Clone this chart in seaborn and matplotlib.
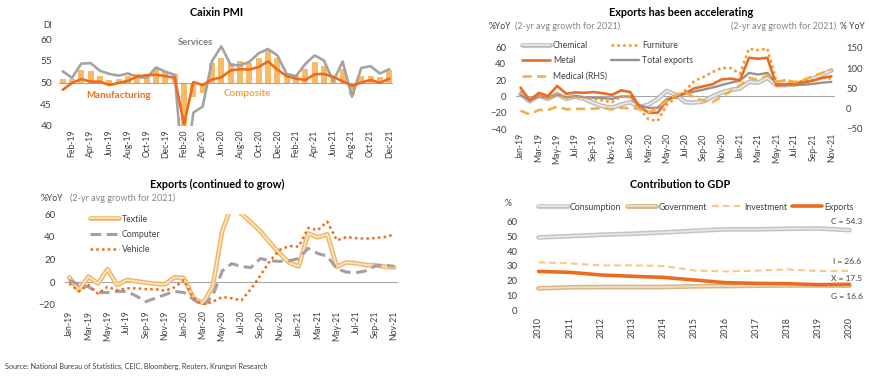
import numpy as np
import pandas as pd
import matplotlib
matplotlib.use("Agg")
import matplotlib.pyplot as plt
import matplotlib.patheffects as pe
import seaborn as sns

# ---------------- Data ----------------
pmi_months = pd.date_range("2019-01-01", periods=36, freq="MS").strftime("%b-%y").tolist()
manufacturing = [48.3, 49.9, 50.8, 50.2, 50.2, 49.4, 49.9, 50.4, 51.4, 51.7, 51.8, 51.5,
                 51.1, 40.3, 50.1, 49.4, 50.7, 51.2, 52.8, 53.1, 53.0, 53.6, 54.9, 53.0,
                 51.5, 50.9, 50.6, 51.9, 52.0, 51.3, 50.3, 49.2, 50.0, 50.6, 49.9, 50.9]
services = [52.6, 51.1, 54.4, 54.5, 52.7, 52.0, 51.6, 52.1, 51.3, 51.1, 53.5, 52.5,
            51.8, 26.5, 43.0, 44.4, 55.0, 58.4, 54.1, 54.0, 54.8, 56.8, 57.8, 56.3,
            52.0, 51.5, 54.3, 56.3, 55.1, 50.3, 54.9, 46.7, 53.4, 53.8, 52.1, 53.1]
composite = [50.9, 50.7, 52.9, 52.7, 51.5, 50.6, 50.9, 51.6, 51.9, 52.0, 53.2, 52.6,
             51.9, 27.5, 46.7, 47.6, 54.5, 55.7, 54.5, 55.1, 54.5, 55.7, 57.5, 55.8,
             52.2, 51.7, 53.1, 54.7, 53.8, 50.6, 53.1, 47.2, 51.4, 51.5, 51.2, 53.0]

exp_months = pd.date_range("2019-01-01", periods=35, freq="MS").strftime("%b-%y").tolist()
chemical = [3, -6, 1, -3, 3, -3, 0, -3, -8, -12, -14, -10, -7, -13, -10, -3, 7, 2, -7, -7.5,
            -6, 0, 5, 8, 10, 18, 17, 23, 14, 14, 15, 18, 22, 27, 32]
metal = [10.8, -5, 4.5, 0.4, 13, 3.3, 5, 4.5, 5.4, 4, 2, 7.5, 5.4, -12.4, -20, -20, -5, 1,
         4, 10, 12.5, 15, 21, 22, 20, 47.6, 46.4, 47.6, 13.7, 14.5, 15.7, 17.4, 19.5, 22.8, 24.8]
furniture = [7, -3, 2, -3, 3, -2, 0, -1, -3, -5, -7, 0, -1, -15, -28, -30, -10, -2, 7, 19,
             24, 30, 35, 35, 28, 59, 57, 59, 18, 20, 17, 19, 20, 23, 22]
total_exports = [2, -5, 0.5, -2, 2.5, -1, 0.5, -1, -1.7, -2, -3, 0, 0, -11, -14, -14, -3, -1,
                 3.5, 6, 8.5, 11, 14, 17, 19.5, 29, 27, 29, 15.5, 15, 14, 14.5, 15.5, 17, 18]
medical_rhs = [-5, -14, -3, -3, 5, -1.5, -0.5, -0.5, 0, 2, -2, 2, 1, -0.5, -9, 2, 20, 34, 41,
               27, 20, 16, 30, 43, 57, 76, 71, 82, 66, 70, 66, 71, 80, 88, 96]

textile = [4.4, -6.8, 5, -1, 11.5, -2.4, 2, 1, -0.3, -1.2, -1.8, 4.4, 3.8, -14, -18.5, -4,
           45, 68, 60.5, 53, 45, 35, 25.5, 17.5, 14, 43, 39.7, 42.4, 13.8, 17.6, 16.8, 15.3,
           15, 13.8, 13.2]
computer = [2, -2, -4, -9, -9, -8, -8, -12, -17, -14, -11, -8, -9, -15, -21, -12, 10, 16.5,
            14, 13, 21, 19, 18.5, 19, 21, 30, 25.5, 23, 12, 9, 8.5, 10, 14.5, 15.3, 14]
vehicle = [-1, -8, -2.4, -10, -4, -7, -5.3, -5.3, -6, -6, -7.4, -4.4, 2, -14, -20, -17, -13,
           -14, -16, -6, 6, 19, 28.5, 32, 31.5, 48, 46, 53.5, 37, 40, 39, 38.5, 39, 40, 42]

years = [2010, 2011, 2012, 2013, 2014, 2015, 2016, 2017, 2018, 2019, 2020]
consumption = [49.3, 50.2, 51.1, 51.8, 52.7, 53.8, 54.8, 54.8, 55.2, 55.4, 54.3]
government = [14.7, 15.4, 15.6, 15.6, 15.6, 16.1, 16.3, 16.5, 16.7, 16.7, 16.6]
investment = [32.4, 31.7, 30.3, 30.3, 29.9, 26.9, 26.2, 26.7, 27.6, 26.5, 26.6]
exports_gdp = [26.2, 25.6, 23.8, 22.9, 22.2, 20.4, 18.6, 18.1, 17.9, 17.2, 17.5]

# ---------------- Style ----------------
sns.set_theme(style="white")
plt.rcParams["font.family"] = ["Lato", "DejaVu Sans"]

ORANGE = "#EC6C1F"
TICK_C = "#404040"
AXIS_C = "#A6A6A6"
SUB_C = "#8E8088"
W, H = 870, 377

fig = plt.figure(figsize=(8.7, 3.77), dpi=100)


def box(l, t, r, b):
    return [l / W, 1 - b / H, (r - l) / W, (b - t) / H]


def fxy(x, y):
    return x / W, 1 - y / H


def dbl(outer):
    return [pe.Stroke(linewidth=3.4, foreground=outer), pe.Normal()]


def clean(ax):
    for s in ax.spines.values():
        s.set_visible(False)
    ax.tick_params(length=0, colors=TICK_C)
    ax.set_xlabel("")
    ax.set_ylabel("")


# ---------------- Panel 1: Caixin PMI ----------------
ax1 = fig.add_axes(box(59, 39.5, 393, 125.5))
df1 = pd.DataFrame({"m": np.arange(36), "Manufacturing": manufacturing,
                    "Services": services, "Composite": composite})
df1["comp_h"] = df1["Composite"] - 50
sns.barplot(data=df1, x="m", y="comp_h", bottom=50, color="#F9B965", saturation=1,
            width=0.62, orient="v", ax=ax1, zorder=1, linewidth=0, edgecolor="none")
sns.lineplot(data=df1, x="m", y="Services", color="#A3A3A3", lw=1.9, ax=ax1, zorder=3)
sns.lineplot(data=df1, x="m", y="Manufacturing", color=ORANGE, lw=1.9, ax=ax1, zorder=4)
ax1.axhline(50, color=AXIS_C, lw=0.8, zorder=2)
ax1.set_ylim(40, 60)
ax1.set_xlim(-0.4, 35.4)
ax1.set_yticks([40, 45, 50, 55, 60])
ax1.set_xticks(range(1, 36, 2))
ax1.set_xticklabels(pmi_months[1::2], rotation=90, fontsize=6.2)
clean(ax1)
ax1.tick_params(axis="y", labelsize=7.3, pad=5)
ax1.tick_params(axis="x", pad=3)

fig.text(*fxy(216.7, 12.5), "Caixin PMI", ha="center", va="center", fontsize=7.8,
         fontweight="bold", color="black")
fig.text(*fxy(43, 25), "DI", ha="left", va="center", fontsize=6.2, color=TICK_C)
fig.text(*fxy(195, 42.7), "Services", ha="center", va="center", fontsize=6.8,
         fontweight="bold", color="#7F7F7F")
fig.text(*fxy(119, 95.7), "Manufacturing", ha="center", va="center", fontsize=7,
         fontweight="bold", color=ORANGE)
fig.text(*fxy(247.7, 93.7), "Composite", ha="center", va="center", fontsize=7,
         fontweight="bold", color="#F5A53F")

# ---------------- Panel 2: Exports has been accelerating ----------------
ax2 = fig.add_axes(box(516, 47.7, 835, 129))
ax2r = ax2.twinx()
df2 = pd.DataFrame({"m": np.arange(35), "Chemical": chemical, "Metal": metal,
                    "Furniture": furniture, "Total exports": total_exports,
                    "Medical (RHS)": medical_rhs})
ax2.axhline(0, color=AXIS_C, lw=0.8, zorder=0)
sns.lineplot(data=df2, x="m", y="Chemical", color="#E9E9E9", lw=1.3,
             path_effects=dbl("#BDBDBD"), ax=ax2, label="Chemical")
sns.lineplot(data=df2, x="m", y="Total exports", color="#9D8E90", lw=1.7, ax=ax2,
             label="Total exports")
sns.lineplot(data=df2, x="m", y="Furniture", color="#EE9A36", lw=1.9,
             linestyle=(0, (1, 1.2)), ax=ax2, label="Furniture")
sns.lineplot(data=df2, x="m", y="Metal", color=ORANGE, lw=1.9, ax=ax2, label="Metal")
sns.lineplot(data=df2, x="m", y="Medical (RHS)", color="#F4B046", lw=1.9,
             linestyle=(0, (3.5, 2)), ax=ax2r, label="Medical (RHS)")
ax2.set_ylim(-40, 60)
ax2r.set_ylim(-50, 150)
ax2.set_xlim(-0.5, 34.4)
ax2.set_yticks([-40, -20, 0, 20, 40, 60])
ax2r.set_yticks([-50, 0, 50, 100, 150])
ax2.set_xticks(range(0, 35, 2))
ax2.set_xticklabels(exp_months[0::2], rotation=90, fontsize=6.2)
clean(ax2)
clean(ax2r)
ax2r.grid(False)
ax2.tick_params(axis="y", labelsize=6.8, pad=7)
ax2r.tick_params(axis="y", labelsize=6.8, pad=8)
ax2.tick_params(axis="x", pad=3)
if ax2.get_legend() is not None:
    ax2.get_legend().remove()
h2 = {l.get_label(): l for l in ax2.get_lines() + ax2r.get_lines()}
order2 = ["Chemical", "Metal", "Medical (RHS)", "Furniture", "Total exports"]
ax2r.legend([h2[k] for k in order2], order2, loc="upper left",
            bbox_to_anchor=fxy(522, 41), bbox_transform=fig.transFigure, ncol=2,
            frameon=False, fontsize=6.3, handlelength=3.2, handletextpad=0.35,
            columnspacing=0.5, labelspacing=0.72, borderpad=0, borderaxespad=0,
            labelcolor=TICK_C)

fig.text(*fxy(680.7, 12.5), "Exports has been accelerating", ha="center", va="center",
         fontsize=7.8, fontweight="bold", color="black")
fig.text(*fxy(489, 26.7), "%YoY", ha="left", va="center", fontsize=6.2, color=TICK_C)
fig.text(*fxy(515, 26.7), "(2-yr avg growth for 2021)", ha="left", va="center",
         fontsize=6.5, color=SUB_C)
fig.text(*fxy(836, 26.7), "(2-yr avg growth for 2021)", ha="right", va="center",
         fontsize=6.5, color=SUB_C)
fig.text(*fxy(840, 26.7), "% YoY", ha="left", va="center", fontsize=6.2, color=TICK_C)

# ---------------- Panel 3: Exports (continued to grow) ----------------
ax3 = fig.add_axes(box(65, 214.3, 398, 305))
df3 = pd.DataFrame({"m": np.arange(35), "Textile": textile, "Computer": computer,
                    "Vehicle": vehicle})
ax3.axhline(0, color=AXIS_C, lw=0.8, zorder=0)
sns.lineplot(data=df3, x="m", y="Textile", color="#FCE3BB", lw=1.3,
             path_effects=dbl("#EEB86C"), ax=ax3, label="Textile")
sns.lineplot(data=df3, x="m", y="Computer", color="#A99DA4", lw=2.2,
             linestyle=(0, (3.5, 1.8)), ax=ax3, label="Computer")
sns.lineplot(data=df3, x="m", y="Vehicle", color=ORANGE, lw=1.8,
             linestyle=(0, (1, 1.3)), ax=ax3, label="Vehicle")
ax3.set_ylim(-20, 60)
ax3.set_xlim(-0.45, 34.4)
ax3.set_yticks([-20, 0, 20, 40, 60])
ax3.set_xticks(range(0, 35, 2))
ax3.set_xticklabels(exp_months[0::2], rotation=90, fontsize=6.2)
clean(ax3)
ax3.tick_params(axis="y", labelsize=7, pad=7)
ax3.tick_params(axis="x", pad=4)
ax3.legend(loc="upper left", bbox_to_anchor=fxy(90, 214.5), bbox_transform=fig.transFigure,
           ncol=1, frameon=False, fontsize=6.3, handlelength=3.3, handletextpad=0.3,
           labelspacing=0.72, borderpad=0, borderaxespad=0, labelcolor=TICK_C)

fig.text(*fxy(216.7, 184.3), "Exports (continued to grow)", ha="center", va="center",
         fontsize=7.8, fontweight="bold", color="black")
fig.text(*fxy(41, 198.3), "%YoY", ha="left", va="center", fontsize=6.2, color=TICK_C)
fig.text(*fxy(70, 198.3), "(2-yr avg growth for 2021)", ha="left", va="center",
         fontsize=6.5, color=SUB_C)

# ---------------- Panel 4: Contribution to GDP ----------------
ax4 = fig.add_axes(box(523, 221.7, 865, 310))
df4 = pd.DataFrame({"y": np.arange(len(years)), "Consumption": consumption,
                    "Government": government, "Investment": investment,
                    "Exports": exports_gdp})
ax4.axhline(0, color=AXIS_C, lw=0.8, zorder=0)
sns.lineplot(data=df4, x="y", y="Consumption", color="#E6E6E6", lw=1.3,
             path_effects=dbl("#C4C4C4"), ax=ax4, label="Consumption")
sns.lineplot(data=df4, x="y", y="Government", color="#EFDDC0", lw=1.3,
             path_effects=dbl("#D6B683"), ax=ax4, label="Government")
sns.lineplot(data=df4, x="y", y="Investment", color="#F7C984", lw=1.5,
             linestyle=(0, (3.2, 2)), ax=ax4, label="Investment")
sns.lineplot(data=df4, x="y", y="Exports", color=ORANGE, lw=2.6, ax=ax4, label="Exports")
ax4.set_ylim(0, 60)
ax4.set_xlim(-0.5, len(years) - 0.5)
ax4.set_yticks(range(0, 61, 10))
ax4.set_xticks(range(len(years)))
ax4.set_xticklabels([str(y) for y in years], rotation=90, fontsize=6.5)
clean(ax4)
ax4.tick_params(axis="y", labelsize=6.8, pad=4)
ax4.tick_params(axis="x", pad=5)
ax4.legend(loc="upper left", bbox_to_anchor=fxy(538, 202.5), bbox_transform=fig.transFigure,
           ncol=4, frameon=False, fontsize=6.3, handlelength=3.4, handletextpad=0.25,
           columnspacing=0.6, borderpad=0, borderaxespad=0, labelcolor=TICK_C)
last = len(years) - 1
for lab, vals, dy in [("C", consumption, 6), ("I", investment, 7), ("X", exports_gdp, 4),
                      ("G", government, -8)]:
    ax4.annotate(f"{lab} = {vals[-1]}", xy=(last, vals[-1]), xytext=(-2, dy),
                 textcoords="offset points", ha="center", va="center", fontsize=6,
                 color=TICK_C, annotation_clip=False)

fig.text(*fxy(680, 184.3), "Contribution to GDP", ha="center", va="center", fontsize=7.8,
         fontweight="bold", color="black")
fig.text(*fxy(505, 203), "%", ha="left", va="center", fontsize=6.2, color=TICK_C)

# ---------------- Source ----------------
fig.text(*fxy(5, 366.5), "Source: National Bureau of Statistics, CEIC, Bloomberg, Reuters, "
         "Krungsri Research", ha="left", va="center", fontsize=5.2, color=TICK_C)

fig.savefig("out.png", dpi=100)
